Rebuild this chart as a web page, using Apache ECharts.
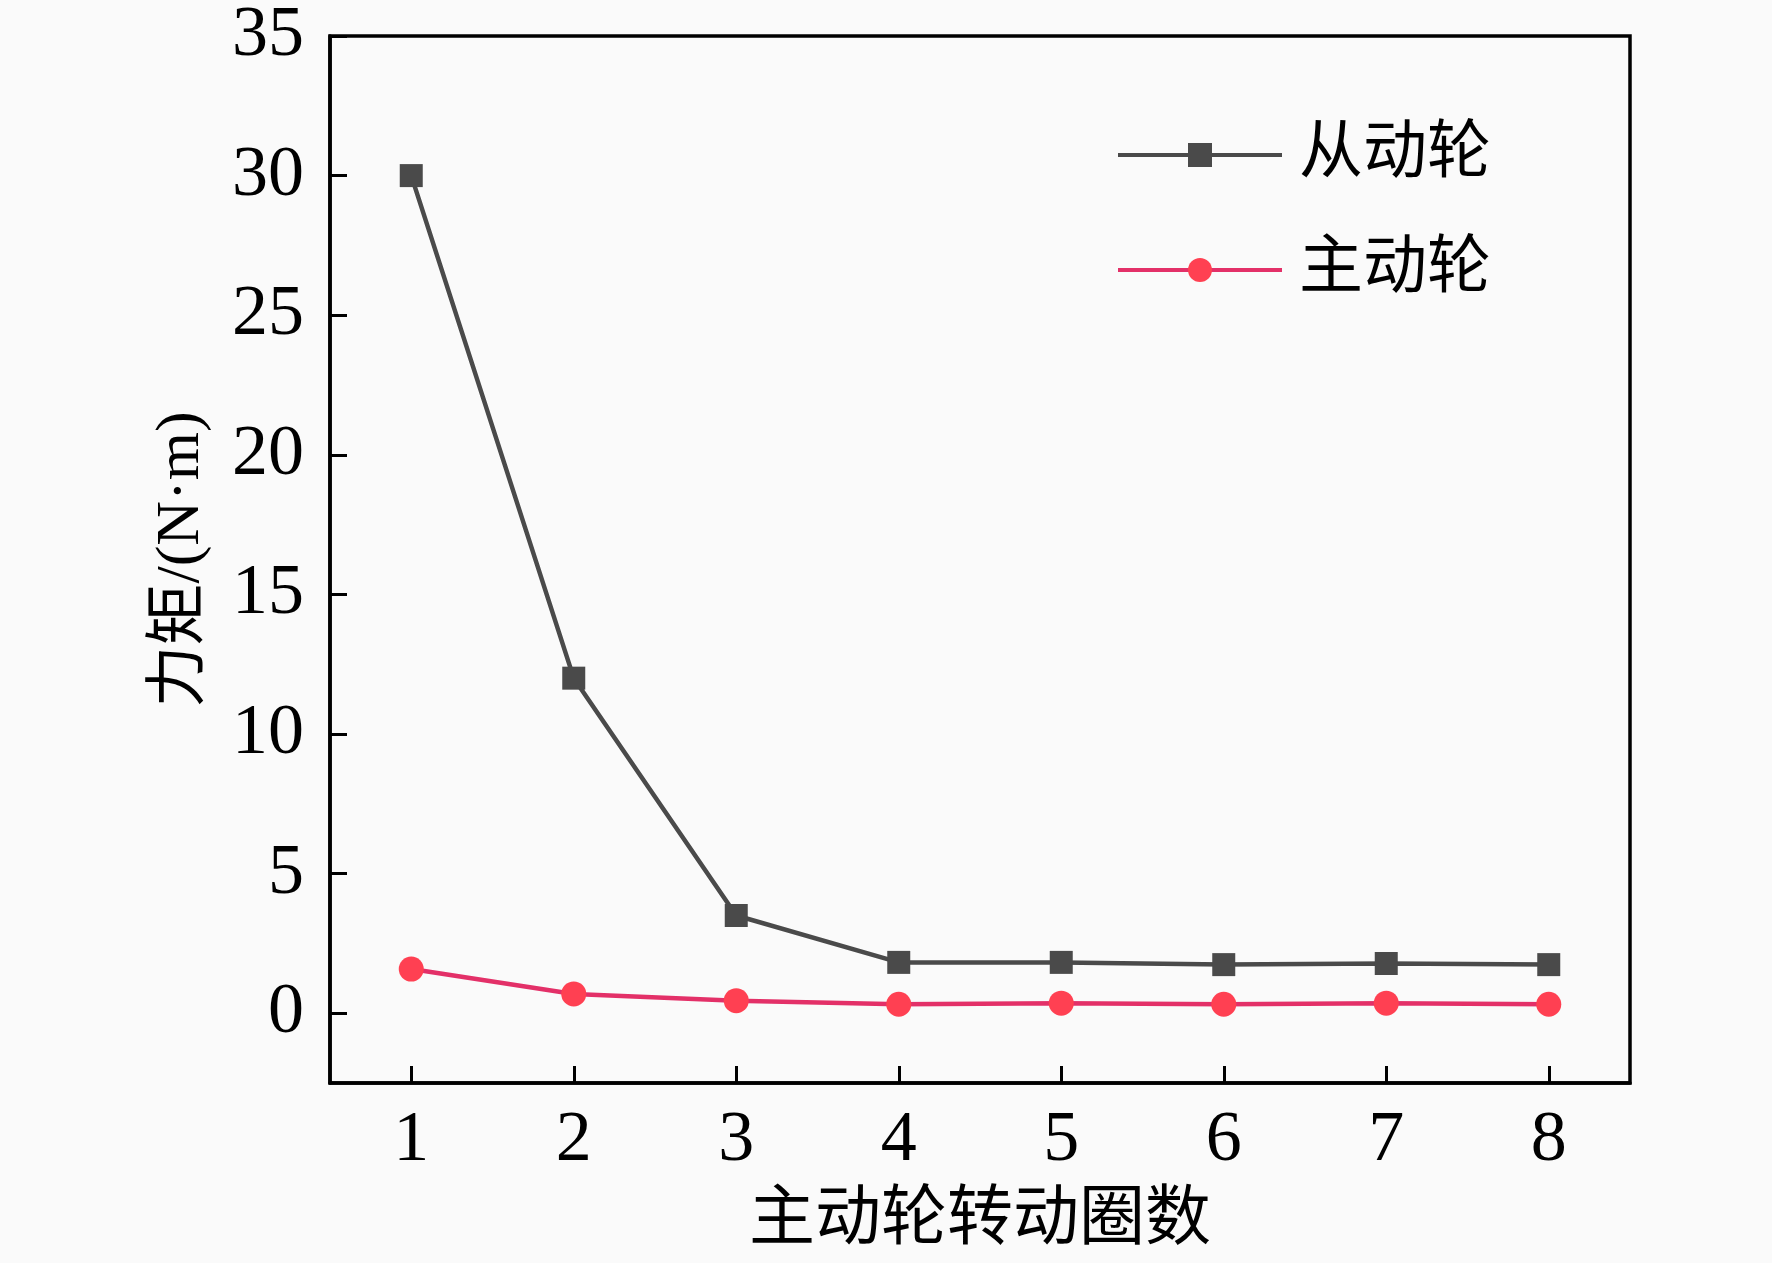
<!DOCTYPE html>
<html>
<head>
<meta charset="utf-8">
<script src="https://cdn.jsdelivr.net/npm/echarts@6/dist/echarts.min.js"></script>
<style>
html,body{margin:0;padding:0;background:#fafafa;}
#chart{width:1772px;height:1263px;}
</style>
</head>
<body>
<div id="chart"></div>
<script>
const rounds = [1, 2, 3, 4, 5, 6, 7, 8];
const drivenTorque = [30, 12, 3.5, 1.82, 1.82, 1.74, 1.78, 1.74];
const drivingTorque = [1.58, 0.69, 0.45, 0.32, 0.36, 0.32, 0.36, 0.32];
const yTicks = [0, 5, 10, 15, 20, 25, 30, 35];
const seriesNames = ['从动轮', '主动轮'];
const xName = '主动轮转动圈数';
const yName = '力矩/(N·m)';

const FONT = "'Liberation Serif', 'Times New Roman', 'Noto Sans CJK SC', serif";
const chart = echarts.init(document.getElementById('chart'));
const pair = arr => rounds.map((r, i) => [r, arr[i]]);

chart.setOption({
  backgroundColor: '#fafafa',
  animation: false,
  grid: {
    left: 330, right: 142, top: 35, bottom: 180,
    show: true, borderColor: '#000', borderWidth: 3.5, backgroundColor: 'transparent'
  },
  legend: {
    left: 1111, top: 118, orient: 'vertical',
    itemWidth: 164, itemHeight: 30, itemGap: 51,
    lineStyle: { width: 4 },
    textStyle: { fontFamily: FONT, fontSize: 64, color: '#000', lineHeight: 64, padding: [0, 0, 0, 12] },
    data: seriesNames
  },
  xAxis: {
    type: 'value', min: 0.5, max: 8.5,
    name: xName, nameLocation: 'middle', nameGap: 106,
    nameTextStyle: { fontFamily: FONT, fontSize: 66, color: '#000' },
    axisLine: { show: true, onZero: false, lineStyle: { color: '#000', width: 3.5 } },
    axisTick: { show: true, inside: true, length: 17, customValues: rounds, lineStyle: { color: '#000', width: 3 } },
    axisLabel: { customValues: rounds, fontFamily: FONT, fontSize: 72, color: '#000', margin: 22 },
    splitLine: { show: false }
  },
  yAxis: {
    type: 'value', min: -2.5, max: 35,
    name: yName, nameLocation: 'middle', nameGap: 117,
    nameTextStyle: { fontFamily: FONT, fontSize: 62, color: '#000' },
    axisLine: { show: true, onZero: false, lineStyle: { color: '#000', width: 3.5 } },
    axisTick: { show: true, inside: true, length: 17, customValues: yTicks, lineStyle: { color: '#000', width: 3 } },
    axisLabel: { customValues: yTicks, fontFamily: FONT, fontSize: 72, color: '#000', margin: 26 },
    splitLine: { show: false }
  },
  series: [
    {
      name: seriesNames[0], type: 'line', data: pair(drivenTorque),
      symbol: 'rect', symbolSize: 23,
      itemStyle: { color: '#4a4a4a' },
      lineStyle: { color: '#4a4a4a', width: 4.5 }
    },
    {
      name: seriesNames[1], type: 'line', data: pair(drivingTorque),
      symbol: 'circle', symbolSize: 25,
      itemStyle: { color: '#ff4052' },
      lineStyle: { color: '#e33068', width: 4.5 }
    }
  ]
});
</script>
</body>
</html>
